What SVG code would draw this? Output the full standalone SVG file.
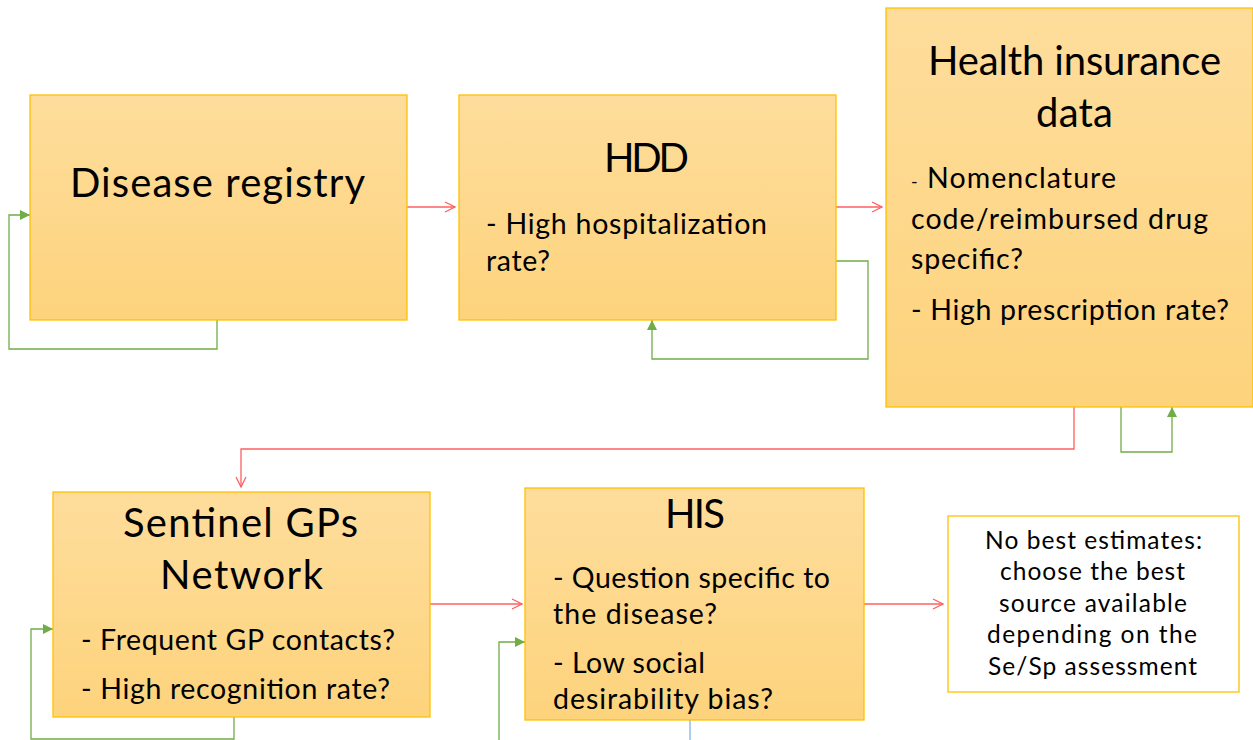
<svg xmlns="http://www.w3.org/2000/svg" width="1253" height="740" viewBox="0 0 1253 740">
<style>
.box{stroke:#ffc000;stroke-width:1.3;fill:url(#g)}
.wbox{stroke:#ffc000;stroke-width:1.3;fill:#fff}
text{font-family:Lato,"Open Sans","Liberation Sans",sans-serif;fill:#000}
.t{font-size:40px}
.b{font-size:28.5px}
.w{font-size:24.5px}
.red{stroke:#ff5f5f;stroke-width:1.3;fill:none;marker-end:url(#ro)}
.grn{stroke:#70ad47;stroke-width:1.3;fill:none;marker-end:url(#gf)}
</style>
<defs>
<linearGradient id="g" x1="0" y1="0" x2="0" y2="1">
<stop offset="0" stop-color="#fedd9c"/>
<stop offset="1" stop-color="#fdd37c"/>
</linearGradient>
<marker id="ro" viewBox="0 0 12 12" refX="11" refY="6" markerWidth="12" markerHeight="12" markerUnits="userSpaceOnUse" orient="auto">
<path d="M1,1 L11,6 L1,11" fill="none" stroke="#ff5f5f" stroke-width="1.3"/>
</marker>
<marker id="gf" viewBox="0 0 10 10" refX="10" refY="5" markerWidth="10" markerHeight="10" markerUnits="userSpaceOnUse" orient="auto">
<path d="M0,0 L10,5 L0,10 Z" fill="#70ad47"/>
</marker>
</defs>
<rect width="1253" height="740" fill="#fff"/>
<g id="connectors">
<path class="red" d="M407,207 H455"/>
<path class="red" d="M836,207 H882"/>
<path class="red" d="M1074,407 V449 H241 V487"/>
<path class="red" d="M430,604 H522"/>
<path class="red" d="M864,604 H943"/>
<path class="grn" d="M217,320 V349 H9 V215 H30"/>
<path class="grn" d="M836,261 H868 V359 H652 V320"/>
<path class="grn" d="M1121,407 V452 H1172 V407"/>
<path class="grn" d="M234,717 V739 H31 V629 H53"/>
<path class="grn" d="M499,740 V642 H525"/>
<path d="M690,720 V740" stroke="#7fb2e5" stroke-width="1.3" fill="none"/>
</g>
<g id="disease-registry">
<rect class="box" x="30" y="95" width="377" height="225"/>
<text class="t" x="70" y="197" textLength="295" lengthAdjust="spacing">Disease registry</text>
</g>
<g id="hdd">
<rect class="box" x="459" y="95" width="377" height="225"/>
<text class="t" x="604" y="172" textLength="85" lengthAdjust="spacing">HDD</text>
<text class="b" x="486" y="234" textLength="281" lengthAdjust="spacing">- High hospitalization</text>
<text class="b" x="486" y="271" textLength="64" lengthAdjust="spacing">rate?</text>
</g>
<g id="health-insurance">
<rect class="box" x="886" y="8" width="367" height="399"/>
<text class="t" x="928" y="75" textLength="293" lengthAdjust="spacing">Health insurance</text>
<text class="t" x="1036" y="127" textLength="77" lengthAdjust="spacing">data</text>
<text class="b" x="911" y="188" textLength="205" lengthAdjust="spacing"><tspan style="font-size:18px">-</tspan> Nomenclature</text>
<text class="b" x="911" y="229" textLength="297" lengthAdjust="spacing">code/reimbursed drug</text>
<text class="b" x="911" y="269" textLength="112" lengthAdjust="spacing">specific?</text>
<text class="b" x="911" y="320" textLength="318" lengthAdjust="spacing">- High prescription rate?</text>
</g>
<g id="sentinel">
<rect class="box" x="53" y="492" width="377" height="225"/>
<text class="t" x="123" y="537" textLength="235" lengthAdjust="spacing">Sentinel GPs</text>
<text class="t" x="160" y="589" textLength="163" lengthAdjust="spacing">Network</text>
<text class="b" x="81" y="650" textLength="314" lengthAdjust="spacing">- Frequent GP contacts?</text>
<text class="b" x="81" y="699" textLength="309" lengthAdjust="spacing">- High recognition rate?</text>
</g>
<g id="his">
<rect class="box" x="525" y="488" width="339" height="232"/>
<text class="t" x="665" y="528" textLength="60" lengthAdjust="spacing">HIS</text>
<text class="b" x="553" y="588" textLength="277" lengthAdjust="spacing">- Question specific to</text>
<text class="b" x="553" y="624" textLength="164" lengthAdjust="spacing">the disease?</text>
<text class="b" x="553" y="673" textLength="152" lengthAdjust="spacing">- Low social</text>
<text class="b" x="553" y="709" textLength="220" lengthAdjust="spacing">desirability bias?</text>
</g>
<g id="conclusion">
<rect class="wbox" x="948" y="516" width="291" height="176"/>
<text class="w" x="985" y="549" textLength="217" lengthAdjust="spacing">No best estimates:</text>
<text class="w" x="1000" y="580" textLength="185" lengthAdjust="spacing">choose the best</text>
<text class="w" x="999" y="612" textLength="188" lengthAdjust="spacing">source available</text>
<text class="w" x="987" y="643" textLength="210" lengthAdjust="spacing">depending on the</text>
<text class="w" x="988" y="675" textLength="209" lengthAdjust="spacing">Se/Sp assessment</text>
</g>
</svg>
